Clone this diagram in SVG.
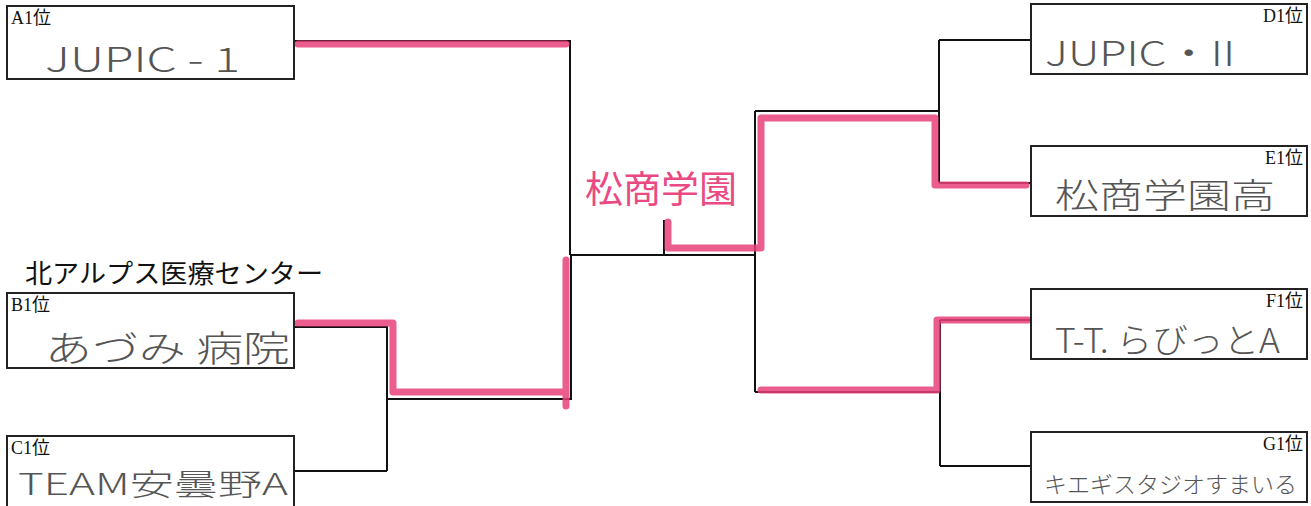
<svg xmlns="http://www.w3.org/2000/svg" width="1311" height="506" viewBox="0 0 1311 506">
<style>
.box{fill:#fff;stroke:#222;stroke-width:2}
.lbl{font-family:"Liberation Serif","Noto Sans CJK JP",serif;font-size:18px;fill:#111}
.hand{font-family:"Noto Sans CJK JP",sans-serif;font-weight:300;font-size:34px;fill:#555}
.ln{fill:none;stroke:#111;stroke-width:2}
.red{fill:none;stroke:#e8417a;stroke-width:7;stroke-opacity:0.85;stroke-linejoin:round;stroke-linecap:round}
.win{font-family:"Noto Sans CJK JP",sans-serif;font-size:37px;fill:#ea4a82}
</style>
<rect width="1311" height="506" fill="#fff"/>
<g id="connectors">
<path class="ln" d="M294,41 H570 V255"/>
<path class="ln" d="M294,327 H387 V471 M294,471 H387"/>
<path class="ln" d="M387,399 H571 V255"/>
<path class="ln" d="M571,255 H755 M664,220 V255"/>
<path class="ln" d="M755,111 V392 M755,111 H939 M939,40 V183 M939,40 H1031 M939,183 H1031"/>
<path class="ln" d="M755,392 H940 M940,320 V466 M940,320 H1031 M940,466 H1031"/>
<path class="red" d="M298,44 H566"/>
<path class="red" d="M298,323 H393 V392 H564 M566,260 V406"/>
<path class="red" d="M668,222 V248 H761 V118 H935 V185 H1026"/>
<path class="red" d="M1028,320 H937 V390 H761"/>
</g>
<g id="A1">
<rect class="box" x="7" y="6" width="287" height="73"/>
<text class="lbl" x="11" y="24">A1位</text>
<text class="hand" x="45" y="72" textLength="195" lengthAdjust="spacingAndGlyphs">JUPIC - 1</text>
</g>
<g id="B1">
<text x="25" y="283" font-family="Noto Sans CJK JP,sans-serif" font-size="26" fill="#111" textLength="298" lengthAdjust="spacingAndGlyphs">北アルプス医療センター</text>
<rect class="box" x="7" y="293" width="287" height="75"/>
<text class="lbl" x="11" y="311">B1位</text>
<text class="hand" x="45" y="362" style="font-size:36px" textLength="245" lengthAdjust="spacingAndGlyphs">あづみ 病院</text>
</g>
<g id="C1">
<rect class="box" x="7" y="436" width="287" height="74"/>
<text class="lbl" x="11" y="454">C1位</text>
<text class="hand" x="18" y="495" style="font-size:30px" textLength="270" lengthAdjust="spacingAndGlyphs">TEAM安曇野A</text>
</g>
<g id="D1">
<rect class="box" x="1031" y="4" width="276" height="70"/>
<text class="lbl" x="1303" y="22" text-anchor="end">D1位</text>
<text class="hand" x="1045" y="66" textLength="190" lengthAdjust="spacingAndGlyphs">JUPIC・II</text>
</g>
<g id="E1">
<rect class="box" x="1031" y="146" width="276" height="70"/>
<text class="lbl" x="1303" y="164" text-anchor="end">E1位</text>
<text class="hand" x="1055" y="208" textLength="220" lengthAdjust="spacingAndGlyphs">松商学園高</text>
</g>
<g id="F1">
<rect class="box" x="1031" y="289" width="276" height="70"/>
<text class="lbl" x="1303" y="307" text-anchor="end">F1位</text>
<text class="hand" x="1055" y="353" textLength="225" lengthAdjust="spacingAndGlyphs">T-T. らびっとA</text>
</g>
<g id="G1">
<rect class="box" x="1031" y="432" width="276" height="70"/>
<text class="lbl" x="1303" y="450" text-anchor="end">G1位</text>
<text class="hand" x="1044" y="493" style="font-size:23px">キエギスタジオすまいる</text>
</g>
<g id="winner">
<text class="win" x="585" y="203" textLength="152" lengthAdjust="spacingAndGlyphs">松商学園</text>
</g>
</svg>
